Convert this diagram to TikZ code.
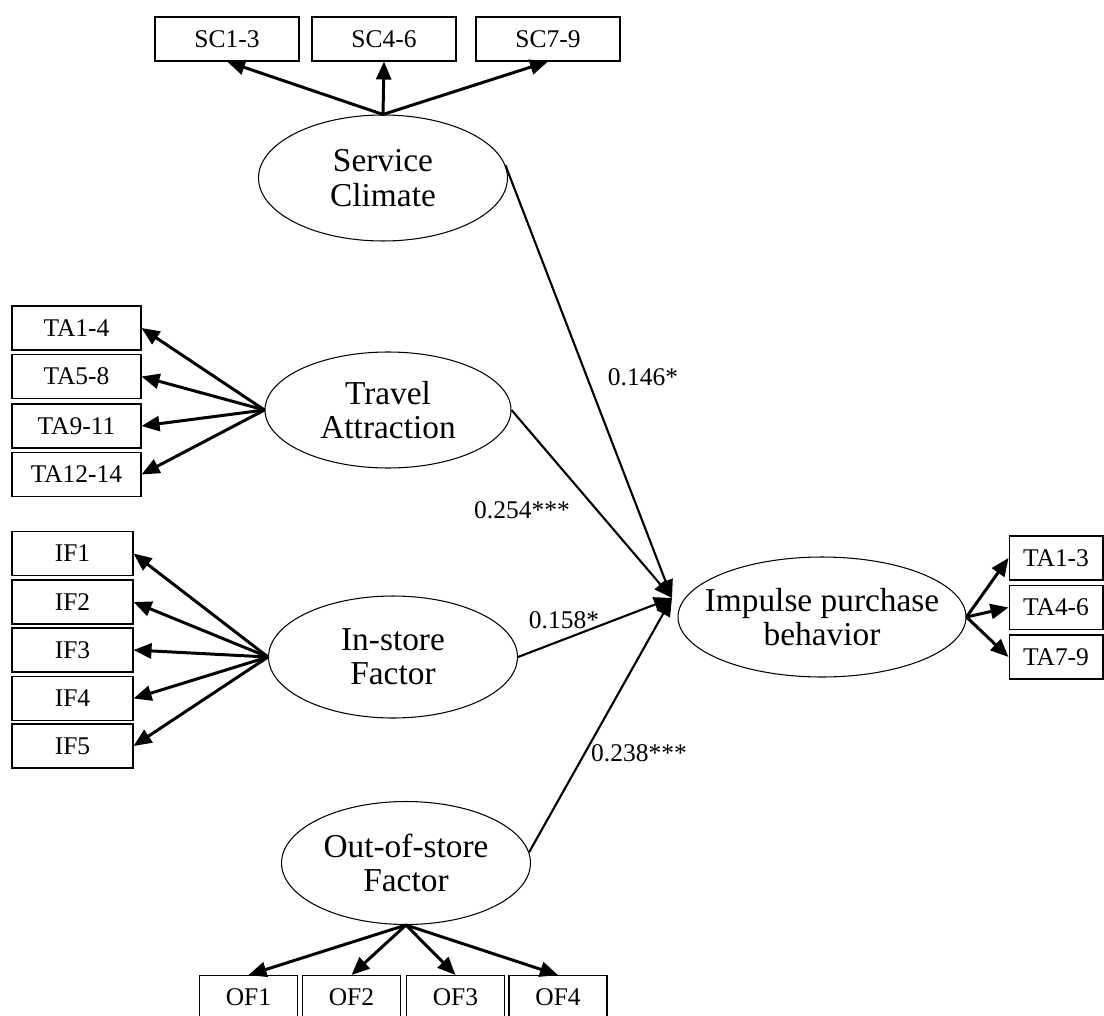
\documentclass[tikz,border=0pt]{standalone}
\usepackage{fontspec}
\setmainfont{Liberation Serif}
\usetikzlibrary{shapes.geometric,arrows.meta}
\tikzset{
    latent/.style={draw,ellipse,line width=0.6pt,inner sep=0pt},
    lattext/.style={align=center,font=\fontsize{19}{19.5}\selectfont},
    itembox/.style={draw,rectangle,line width=0.6pt,inner sep=0pt,minimum height=0.88cm,font=\fontsize{14.5}{16}\selectfont},
    load/.style={line width=1.7pt,-{Triangle[length=0.36cm,width=0.3cm]}},
    path/.style={line width=1.2pt,-{Triangle[length=0.36cm,width=0.3cm]}},
    coef/.style={font=\fontsize{14.5}{16}\selectfont}
}
\begin{document}
\begin{tikzpicture}[x=0.02cm,y=-0.02cm]
    \useasboundingbox (0,0) rectangle (1104,1016);
    % latent variables
    \node [latent,minimum width=4.98cm,minimum height=2.52cm,label={[lattext]center:Service\\Climate}] (sc) at (383,178) {};
    \node [latent,minimum width=4.92cm,minimum height=2.32cm,label={[lattext]center:Travel\\Attraction}] (ta) at (388,410) {};
    \node [latent,minimum width=4.98cm,minimum height=2.44cm,label={[lattext]center:In-store\\Factor}] (is) at (393,657) {};
    \node [latent,minimum width=4.98cm,minimum height=2.46cm,label={[lattext]center:Out-of-store\\Factor}] (of) at (406,863) {};
    \node [latent,minimum width=5.76cm,minimum height=2.4cm,label={[lattext]center:Impulse purchase\\behavior}] (ipb) at (822,617) {};
    % service climate items
    \node [itembox,minimum width=2.88cm] (sc1) at (227,39) {SC1-3};
    \node [itembox,minimum width=2.88cm] (sc2) at (384,39) {SC4-6};
    \node [itembox,minimum width=2.88cm] (sc3) at (548,39) {SC7-9};
    \foreach \i in {1,2,3} \draw [load] (sc.north) -- (sc\i.south);
    % travel attraction items
    \node [itembox,minimum width=2.58cm] (ta1) at (76.5,328) {TA1-4};
    \node [itembox,minimum width=2.58cm] (ta2) at (76.5,376.5) {TA5-8};
    \node [itembox,minimum width=2.58cm] (ta3) at (76.5,426) {TA9-11};
    \node [itembox,minimum width=2.58cm] (ta4) at (76.5,474.5) {TA12-14};
    \foreach \i in {1,...,4} \draw [load] (ta.west) -- (ta\i.east);
    % in-store items
    \foreach \i/\y in {1/553.5,2/602,3/650,4/698.5,5/746}
        \node [itembox,minimum width=2.42cm] (if\i) at (72.5,\y) {IF\i};
    \foreach \i in {1,...,5} \draw [load] (is.west) -- (if\i.east);
    % out-of-store items
    \foreach \i/\x in {1/248.5,2/351.5,3/455.5,4/558}
        \node [itembox,minimum width=1.96cm] (of\i) at (\x,997.5) {OF\i};
    \foreach \i in {1,...,4} \draw [load] (of.south) -- (of\i.north);
    % impulse purchase items
    \node [itembox,minimum width=1.88cm] (ip1) at (1056,558) {TA1-3};
    \node [itembox,minimum width=1.88cm] (ip2) at (1056,607.5) {TA4-6};
    \node [itembox,minimum width=1.88cm] (ip3) at (1056,657) {TA7-9};
    \foreach \i in {1,2,3} \draw [load] (ipb.east) -- (ip\i.west);
    % paths
    \coordinate (ipbin) at (672,598);
    \draw [path] (sc.6) -- (ipbin);
    \draw [path] (ta.east) -- (ipbin);
    \draw [path] (is.east) -- (ipbin);
    \draw [path] (of.5) -- (ipbin);
    \node [coef] (c1) at (643,377) {0.146*};
    \node [coef] (c2) at (522,510) {0.254***};
    \node [coef] (c3) at (564,620) {0.158*};
    \node [coef] (c4) at (639,753) {0.238***};
\end{tikzpicture}
\end{document}
